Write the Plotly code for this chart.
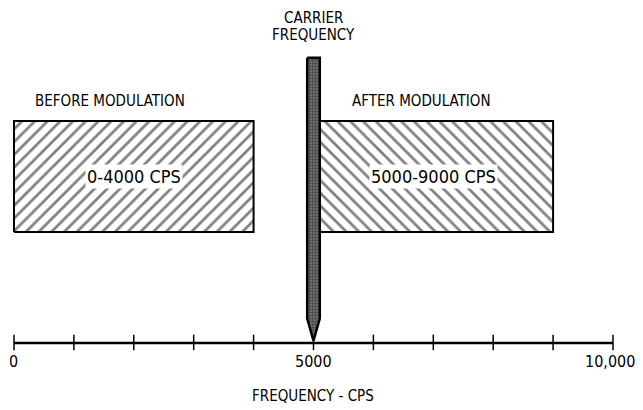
import plotly.graph_objects as go

# ---- data ----
band_low = [0, 5000]            # CPS
band_high = [4000, 9000]        # CPS
band_labels = ["0-4000 CPS", "5000-9000 CPS"]
band_titles = ["BEFORE MODULATION", "AFTER MODULATION"]
band_title_shift = [-400, -200]
band_patterns = ["/", "\\"]
band_amp_bottom = 1.0
band_amp_top = 2.0

carrier_freq = 5000
carrier_top = 2.57
carrier_width = 210

tick_values = [0, 1000, 2000, 3000, 4000, 5000, 6000, 7000, 8000, 9000, 10000]
tick_label_values = [0, 5000, 10000]
tick_label_text = ["0", "5000", "10,000"]
axis_title = "FREQUENCY - CPS"
carrier_title_lines = ["CARRIER", "FREQUENCY"]

FONT = "DejaVu Sans Condensed, Liberation Sans Narrow, DejaVu Sans, sans-serif"

fig = go.Figure()

# hatched bands
for lo, hi, pat in zip(band_low, band_high, band_patterns):
    fig.add_trace(go.Scatter(
        x=[lo, hi, hi, lo, lo],
        y=[band_amp_bottom, band_amp_bottom, band_amp_top, band_amp_top, band_amp_bottom],
        mode="lines", fill="toself",
        fillcolor="white",
        fillpattern=dict(shape=pat, fgcolor="black", bgcolor="white",
                         size=9, solidity=0.3),
        line=dict(color="black", width=2),
        hoverinfo="skip", showlegend=False,
    ))

# frequency axis line
fig.add_trace(go.Scatter(
    x=[tick_values[0], tick_values[-1]], y=[0, 0], mode="lines",
    line=dict(color="black", width=2.5), hoverinfo="skip", showlegend=False,
))
# tick marks
tx, ty = [], []
for t in tick_values:
    tx += [t, t, None]
    ty += [-0.065, 0.075, None]
fig.add_trace(go.Scatter(
    x=tx, y=ty, mode="lines", line=dict(color="black", width=1.5),
    hoverinfo="skip", showlegend=False,
))

# carrier bar with pointed tip
half = carrier_width / 2
fig.add_trace(go.Scatter(
    x=[carrier_freq - half, carrier_freq + half, carrier_freq + half,
       carrier_freq, carrier_freq - half, carrier_freq - half],
    y=[carrier_top, carrier_top, 0.22, 0.02, 0.22, carrier_top],
    mode="lines", fill="toself", fillcolor="#555",
    fillpattern=dict(shape=".", fgcolor="#111", bgcolor="#777", size=3, solidity=0.5),
    line=dict(color="black", width=2.5),
    hoverinfo="skip", showlegend=False,
))

annotations = []
# tick labels (last one right-aligned so it stays inside the page)
for v, t in zip(tick_label_values, tick_label_text):
    is_last = v == tick_label_values[-1]
    annotations.append(dict(
        x=v, y=-0.17, text=t, showarrow=False,
        xanchor="right" if is_last else "center",
        xshift=24 if is_last else 0,
        font=dict(family=FONT, size=16, color="black")))

for lo, hi, lab, title, sh in zip(band_low, band_high, band_labels, band_titles, band_title_shift):
    mid = (lo + hi) / 2
    annotations.append(dict(x=mid, y=1.5, text=lab, showarrow=False,
                            bgcolor="white", borderpad=1,
                            font=dict(family=FONT, size=18, color="black")))
    annotations.append(dict(x=mid + sh, y=2.18, text=title, showarrow=False,
                            font=dict(family=FONT, size=15, color="black")))
annotations.append(dict(x=carrier_freq, y=1, yref="paper", yanchor="top",
                        text=carrier_title_lines[0], showarrow=False, borderpad=0,
                        font=dict(family=FONT, size=15, color="black")))
annotations.append(dict(x=carrier_freq, y=2.775, text=carrier_title_lines[1],
                        showarrow=False, borderpad=0,
                        font=dict(family=FONT, size=15, color="black")))
annotations.append(dict(x=carrier_freq, y=-0.48, text=axis_title, showarrow=False,
                        font=dict(family=FONT, size=15, color="black")))

fig.update_layout(
    width=635, height=402,
    margin=dict(l=0, r=0, t=0, b=0),
    paper_bgcolor="white", plot_bgcolor="white",
    xaxis=dict(range=[-100, 10501], visible=False, fixedrange=True),
    yaxis=dict(range=[-0.604, 3.018], visible=False, fixedrange=True),
    annotations=annotations,
    showlegend=False,
)

fig.write_html("out.html")
